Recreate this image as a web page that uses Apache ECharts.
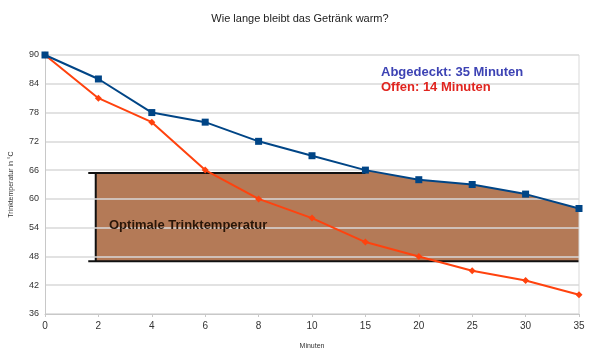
<!DOCTYPE html>
<html>
<head>
<meta charset="utf-8">
<script src="https://cdn.jsdelivr.net/npm/echarts@6/dist/echarts.min.js"></script>
<style>
html,body{margin:0;padding:0;background:#fff;}
#chart{width:600px;height:357px;}
</style>
</head>
<body>
<div id="chart"></div>
<script>
// Data
const minutes = ['0','2','4','6','8','10','15','20','25','30','35'];
const abgedeckt = [90, 85, 78, 76, 72, 69, 66, 64, 63, 61, 58];
const offen = [90, 81, 76, 66, 60, 56, 51, 48, 45, 43, 40];
const yTicks = [36, 42, 48, 54, 60, 66, 72, 78, 84, 90];
// optimal drinking zone (temperature range) and horizontal extent (category index)
const zoneLow = 47;
const zoneHigh = 65.4;
const zoneStartIdx = 0.95;
const zoneWhiskerIdx = 0.81;
const zoneFollowFromIdx = 6;

const chart = echarts.init(document.getElementById('chart'), null, {renderer:'canvas'});

const xIdx = minutes.map((m, i) => i);

const option = {
  backgroundColor: '#fff',
  animation: false,
  title: {
    text: 'Wie lange bleibt das Getränk warm?',
    left: 'center',
    top: 8,
    textStyle: {fontFamily: 'Liberation Sans', fontSize: 11, fontWeight: 'normal', color: '#222'}
  },
  grid: {left: 45, right: 21, top: 55, bottom: 43},
  xAxis: {
    type: 'value',
    min: 0, max: minutes.length - 1, interval: 1,
    name: 'Minuten', nameLocation: 'middle', nameGap: 29,
    nameTextStyle: {fontFamily: 'Liberation Sans', fontSize: 7, color: '#333'},
    axisLine: {show: true, lineStyle: {color: '#c8c8c8', width: 1}},
    axisTick: {show: true, length: 3, lineStyle: {color: '#c8c8c8'}},
    axisLabel: {
      formatter: v => minutes[v] !== undefined ? minutes[v] : '',
      fontFamily: 'Liberation Sans', fontSize: 10, color: '#333', margin: 7
    },
    splitLine: {show: false}
  },
  yAxis: {
    type: 'value',
    min: yTicks[0], max: yTicks[yTicks.length - 1], interval: 6,
    name: 'Trinktemperatur in °C', nameLocation: 'middle', nameGap: 30, nameRotate: 90,
    nameTextStyle: {fontFamily: 'Liberation Sans', fontSize: 7, color: '#333'},
    axisLine: {show: true, lineStyle: {color: '#c8c8c8'}},
    axisTick: {show: false},
    axisLabel: {fontFamily: 'Liberation Sans', fontSize: 9, color: '#333', margin: 6},
    splitLine: {show: true, lineStyle: {color: '#d9d9d9', width: 1.5}}
  },
  series: [
    {
      type: 'custom',
      z: -1,
      silent: true,
      data: [0],
      renderItem: function (params, api) {
        const pts = [];
        pts.push(api.coord([zoneStartIdx, zoneHigh]));
        pts.push(api.coord([zoneFollowFromIdx, zoneHigh]));
        for (let i = zoneFollowFromIdx; i < abgedeckt.length; i++) {
          pts.push(api.coord([i, Math.min(abgedeckt[i], zoneHigh + 0.6)]));
        }
        pts.push(api.coord([abgedeckt.length - 1, zoneLow]));
        pts.push(api.coord([zoneStartIdx, zoneLow]));
        const a = api.coord([zoneWhiskerIdx, zoneHigh]);
        const b = api.coord([zoneFollowFromIdx, zoneHigh]);
        const c = api.coord([zoneStartIdx, zoneHigh]);
        const d = api.coord([zoneStartIdx, zoneLow]);
        const e = api.coord([zoneWhiskerIdx, zoneLow]);
        const f = api.coord([abgedeckt.length - 1, zoneLow]);
        const ls = {stroke: '#111', lineWidth: 2};
        return {
          type: 'group',
          children: [
            {type: 'polygon', shape: {points: pts}, style: {fill: '#b47a57'}},
            {type: 'line', shape: {x1: a[0], y1: a[1], x2: b[0], y2: b[1]}, style: ls},
            {type: 'line', shape: {x1: c[0], y1: c[1], x2: d[0], y2: d[1]}, style: ls},
            {type: 'line', shape: {x1: e[0], y1: e[1], x2: f[0], y2: f[1]}, style: ls}
          ]
        };
      }
    },
    {
      name: 'Abgedeckt',
      type: 'line',
      data: abgedeckt.map((v, i) => [xIdx[i], v]),
      symbol: 'rect', symbolSize: 7,
      lineStyle: {color: '#004586', width: 2},
      itemStyle: {color: '#004586'},
      z: 4
    },
    {
      name: 'Offen',
      type: 'line',
      data: offen.map((v, i) => [xIdx[i], v]),
      symbol: 'diamond', symbolSize: 7,
      lineStyle: {color: '#ff420e', width: 2},
      itemStyle: {color: '#ff420e'},
      z: 3
    }
  ],
  graphic: [
    {type: 'text', left: 381, top: 66, z: 100, style: {text: 'Abgedeckt: 35 Minuten', fill: '#3d43b4', font: 'bold 13px "Liberation Sans"'}},
    {type: 'text', left: 381, top: 81, z: 100, style: {text: 'Offen: 14 Minuten', fill: '#e0251f', font: 'bold 13px "Liberation Sans"'}},
    {type: 'text', left: 109, top: 219, z: 100, style: {text: 'Optimale Trinktemperatur', fill: '#2a1608', font: 'bold 13px "Liberation Sans"'}},
    {type: 'line', shape: {x1: 579, y1: 55, x2: 579, y2: 314}, style: {stroke: '#d9d9d9', lineWidth: 1}}
  ]
};
chart.setOption(option);
</script>
</body>
</html>
